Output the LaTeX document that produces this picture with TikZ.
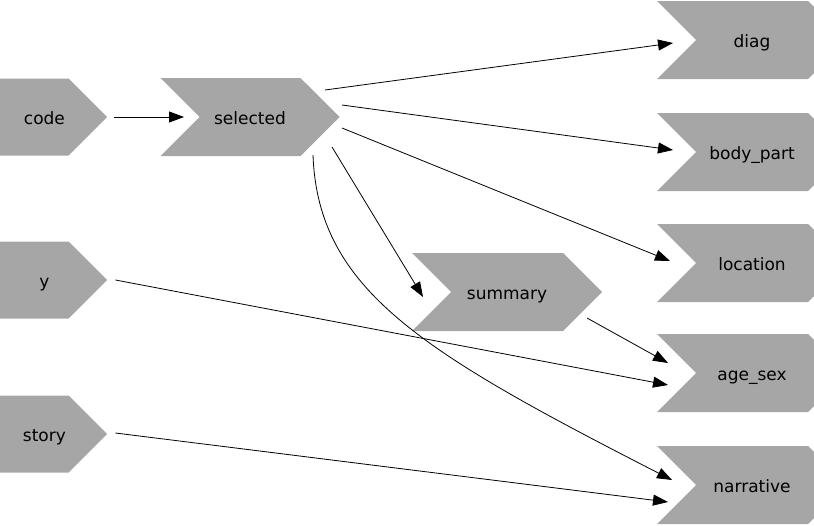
\documentclass[tikz,border=0pt]{standalone}
\usepackage{fontspec}
\setmainfont{DejaVu Sans}
\usetikzlibrary{shapes.symbols, arrows.meta, positioning}
\definecolor{boxgray}{RGB}{166,166,166}

\begin{document}
\begin{tikzpicture}[x=1pt, y=-1pt,
  every node/.style={font=\fontsize{17}{20}\selectfont, text height=17pt, text depth=3pt},
  inbox/.style={signal, signal to=east, signal pointer angle=90, fill=boxgray,
    inner sep=0pt, minimum width=107, minimum height=77, anchor=west,
    execute at begin node=\hspace*{20pt}},
  stepbox/.style={signal, signal from=west, signal to=east, signal pointer angle=90,
    fill=boxgray, inner sep=0pt, minimum width=190, minimum height=78},
  link/.style={-{Triangle[length=15pt,width=11pt]}, line width=0.8pt}]
\useasboundingbox (0,0) rectangle (814,525);
\clip (0,0) rectangle (814,525);
% Inputs
\node[inbox] (code) at (0,117) {code};
\node[inbox] (y) at (0,280) {y};
\node[inbox] (story) at (0,434) {story};
% Intermediate steps
\node[stepbox, minimum width=179] (selected) at (250,117) {selected};
\node[stepbox] (summary) at (507,292) {summary};
% Outputs
\node[stepbox] (diag) at (752,40) {diag};
\node[stepbox] (body_part) at (752,152) {body\_part};
\node[stepbox] (location) at (752,263) {location};
\node[stepbox] (age_sex) at (752,373) {age\_sex};
\node[stepbox] (narrative) at (752,485) {narrative};
% Dependencies
\draw[link] ([xshift=7]code.east) -- ([xshift=-66]selected.center);
\draw[link] ([shift={(75,-27)}]selected.center) -- ([shift={(-79,3)}]diag.center);
\draw[link] ([shift={(92,-12)}]selected.center) -- ([shift={(-79,-2)}]body_part.center);
\draw[link] ([shift={(92,11)}]selected.center) -- ([shift={(-82,-2)}]location.center);
\draw[link] ([shift={(82,30)}]selected.center) -- ([shift={(-84,5)}]summary.center);
\draw[link] ([shift={(63,38)}]selected.center) .. controls +(5,135) and +(-250,-128) .. ([shift={(-80,-5)}]narrative.center);
\draw[link] ([xshift=8]y.east) -- ([shift={(-84,12)}]age_sex.center);
\draw[link] ([shift={(8,-1)}]story.east) -- ([shift={(-84,17)}]narrative.center);
\draw[link] ([shift={(80,26)}]summary.center) -- ([shift={(-84,-10)}]age_sex.center);
\end{tikzpicture}
\end{document}
